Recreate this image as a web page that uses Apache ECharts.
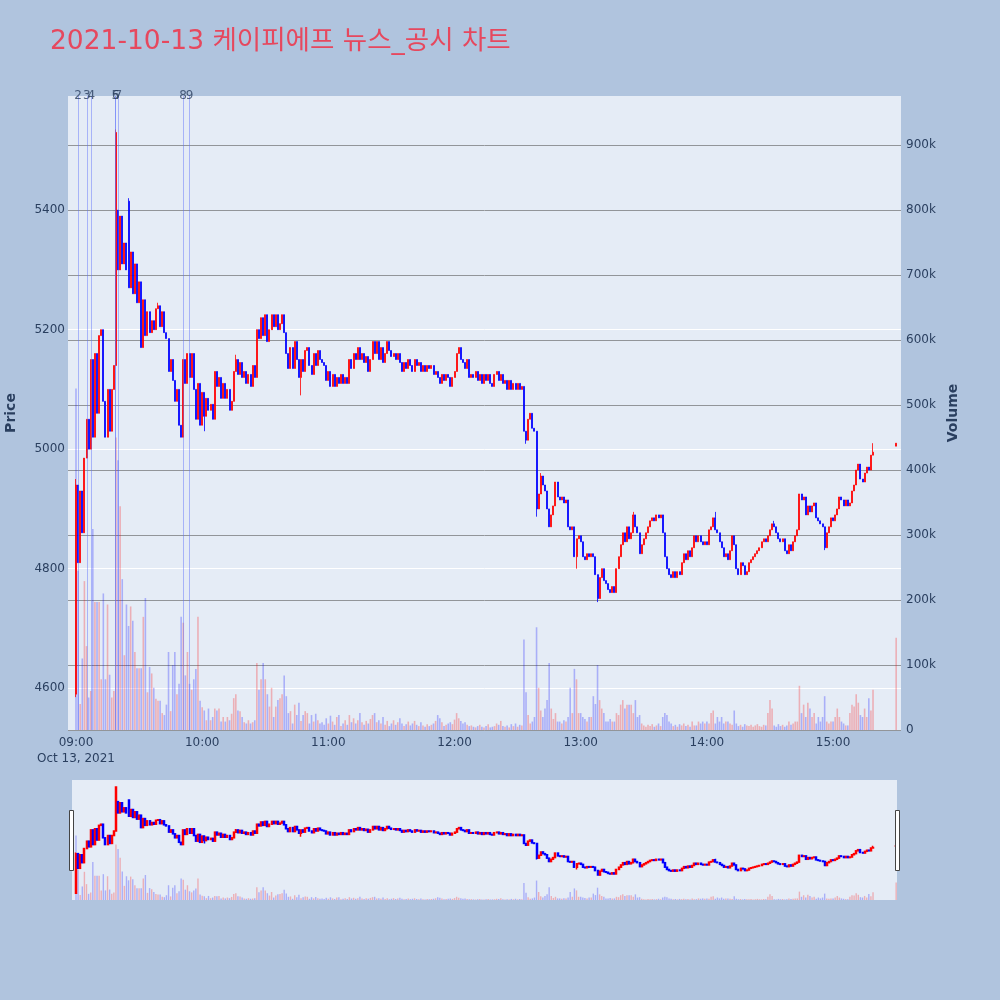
<!DOCTYPE html>
<html><head><meta charset="utf-8">
<script src="https://cdn.jsdelivr.net/npm/echarts@6/dist/echarts.min.js"></script>
<style>html,body{margin:0;padding:0;background:#B0C4DE}#c{width:1000px;height:1000px}</style>
</head><body><div id="c"></div>
<script>
// ---- data (minutes after 09:00, one candle per minute) ----
const firstOpen = 4590;
const closes = [
4940,4810,4930,4860,4985,5050,5000,5150,5020,5160,
5060,5190,5200,5080,5020,5100,5030,5100,5140,5530,
5300,5390,5310,5345,5300,5270,5330,5260,5310,5245,
5280,5170,5250,5190,5230,5195,5215,5200,5235,5240,
5205,5230,5195,5185,5130,5150,5115,5080,5100,5040,
5020,5150,5110,5160,5120,5160,5100,5050,5110,5040,
5095,5055,5085,5065,5075,5050,5130,5105,5120,5085,
5110,5085,5100,5065,5080,5130,5150,5125,5145,5120,
5130,5110,5125,5105,5140,5120,5200,5185,5220,5190,
5225,5180,5200,5225,5205,5225,5200,5210,5225,5195,
5160,5135,5170,5135,5180,5150,5120,5150,5130,5165,
5170,5140,5125,5160,5140,5165,5150,5145,5140,5115,
5130,5105,5125,5105,5120,5110,5125,5110,5120,5110,
5150,5135,5160,5150,5170,5150,5160,5145,5155,5130,
5150,5180,5160,5180,5150,5170,5145,5160,5180,5165,
5155,5160,5150,5160,5145,5130,5145,5135,5150,5140,
5130,5150,5140,5145,5130,5140,5130,5140,5135,5140,
5125,5130,5120,5110,5125,5115,5125,5120,5105,5120,
5130,5160,5170,5150,5145,5135,5150,5120,5125,5120,
5130,5115,5125,5110,5125,5115,5125,5110,5105,5125,
5130,5115,5125,5110,5115,5100,5115,5100,5110,5100,
5110,5100,5105,5030,5015,5050,5060,5035,5030,4900,
4925,4955,4940,4930,4900,4870,4890,4905,4945,4920,
4915,4920,4910,4915,4870,4865,4870,4820,4850,4855,
4845,4820,4815,4825,4820,4825,4820,4790,4750,4785,
4800,4780,4775,4765,4760,4770,4760,4800,4820,4840,
4860,4845,4870,4850,4860,4890,4870,4860,4825,4840,
4850,4860,4870,4880,4885,4880,4890,4885,4890,4860,
4820,4800,4790,4785,4795,4785,4795,4790,4810,4825,
4815,4830,4820,4835,4855,4845,4855,4845,4840,4845,
4840,4865,4870,4885,4865,4860,4845,4835,4820,4825,
4815,4830,4855,4840,4800,4790,4810,4805,4790,4795,
4810,4815,4820,4825,4830,4835,4845,4850,4845,4855,
4865,4875,4870,4860,4850,4845,4850,4830,4825,4840,
4830,4845,4855,4865,4925,4915,4920,4890,4905,4895,
4905,4910,4885,4880,4875,4870,4835,4860,4870,4885,
4880,4890,4900,4920,4915,4905,4915,4905,4910,4930,
4940,4965,4975,4950,4945,4960,4970,4965,4990,4995
];
const volumesK = [
525,245,40,110,229,129,50,60,309,197,
197,197,78,210,78,193,85,50,60,450,
415,344,232,115,193,160,190,168,120,95,
95,95,174,203,58,97,87,65,48,45,
45,26,23,39,120,29,100,120,55,71,
174,165,84,120,71,62,78,94,174,45,
35,30,15,33,15,20,33,30,33,13,
20,13,20,15,25,49,55,30,29,20,
12,10,15,10,12,15,103,62,78,103,
78,55,36,65,20,36,46,49,55,84,
52,26,29,10,39,23,42,14,23,29,
26,10,23,13,25,15,10,12,8,18,
10,22,13,8,20,23,6,10,15,8,
23,12,18,10,15,26,12,8,14,10,
17,23,26,12,15,10,20,8,14,6,
10,15,8,12,18,10,6,9,13,7,
10,14,8,6,12,7,5,9,6,8,
10,14,23,18,12,6,8,10,12,9,
16,26,18,14,10,12,8,6,7,5,
4,6,8,5,4,6,9,4,5,6,
10,8,14,6,5,7,4,9,6,10,
5,8,7,139,58,23,10,13,20,158,
65,30,20,33,46,103,33,17,26,13,
13,10,15,13,20,65,26,94,78,26,
26,20,17,13,20,20,52,40,100,46,
33,26,13,13,17,13,13,26,23,39,
46,33,39,39,39,26,46,20,23,10,
7,5,8,6,9,5,7,10,6,20,
26,23,13,10,6,8,5,9,7,10,
6,8,5,13,7,7,13,10,13,10,
13,10,26,30,10,20,13,20,10,13,
13,10,8,30,10,6,8,5,9,7,
6,8,5,7,9,6,5,8,7,26,
46,33,7,5,9,6,8,5,7,13,
8,10,13,13,68,26,39,20,42,33,
20,26,10,20,13,20,52,13,10,13,
13,20,33,20,13,10,7,7,26,39,
36,55,42,23,20,33,20,49,30,62
];
// gaps where a candle opened away from the previous close
const openOverrides = {20: 5400, 25: 5415};
const highWicks = {0: 4950, 19: 5535, 25: 5420, 39: 5245, 76: 5158, 183: 5170, 221: 4960, 265: 4895, 304: 4895, 332: 4880, 379: 5010};
const lowWicks = {0: 4585, 61: 5030, 107: 5090, 214: 5009, 219: 4887, 238: 4800, 248: 4744, 356: 4831};
// closing auction at 15:30
const auctionMinute = 390, auctionOpen = 5005, auctionClose = 5010, auctionVolumeK = 142;
// news / disclosure markers
const newsLabels = ['2','3','4','5','6','7','8','9'];
const newsMinutes = [0.95, 5.2, 7.3, 18.7, 18.9, 20.1, 50.9, 54.0];
// ticks
const hourTicks = [0, 60, 120, 180, 240, 300, 360];
const priceTicks = [4600, 4800, 5000, 5200, 5400];
const volumeTicks = [0, 100, 200, 300, 400, 500, 600, 700, 800, 900];
const dateLabel = 'Oct 13, 2021';

// ---- build series data ----
const candles = [], volBars = [];
const UP = '#ff0000', DOWN = '#0000ff';
const UPV = 'rgba(255,0,0,0.26)', DOWNV = 'rgba(0,0,255,0.26)';
for (let i = 0; i < closes.length; i++) {
  const o = openOverrides[i] != null ? openOverrides[i] : (i === 0 ? firstOpen : closes[i - 1]);
  const c = closes[i];
  const h = Math.max(o, c, highWicks[i] || -Infinity);
  const l = Math.min(o, c, lowWicks[i] || Infinity);
  candles.push([i, o, c, l, h]);
  const up = i > 0 && c >= closes[i - 1];
  volBars.push({value: [i, volumesK[i]], itemStyle: {color: up ? UPV : DOWNV}});
}
candles.push([auctionMinute, auctionOpen, auctionClose, auctionOpen, auctionClose]);
volBars.push({value: [auctionMinute, auctionVolumeK], itemStyle: {color: auctionClose >= closes[closes.length-1] ? UPV : DOWNV}});

const priceMin = 4530, priceMax = 5591, volMax = 975;
const font = "'DejaVu Sans', 'Noto Sans CJK KR', sans-serif";
const txt = '#2a3f5f';
function fmtTime(m) {
  const h = 9 + Math.floor(m / 60), mm = m % 60;
  const s = (h < 10 ? '0' : '') + h + ':' + (mm < 10 ? '0' : '') + mm;
  return m === 0 ? s + '\n' + dateLabel : s;
}

const chart = echarts.init(document.getElementById('c'), null, {renderer: 'canvas'});
chart.setOption({
  animation: false,
  backgroundColor: '#B0C4DE',
  title: {text: '2021-10-13 케이피에프 뉴스_공시 차트', left: 50, top: 29, padding: 0,
    textStyle: {fontSize: 26.5, fontWeight: 'normal', color: '#e6485e', fontFamily: font}},
  grid: [
    {left: 68, top: 96, width: 833, height: 634, show: true, backgroundColor: '#E5ECF6', borderWidth: 0,
      containLabel: false, outerBoundsMode: 'none'},
    {left: 72, top: 780, width: 825, height: 120, show: true, backgroundColor: '#E5ECF6', borderWidth: 0,
      containLabel: false, outerBoundsMode: 'none'}
  ],
  xAxis: [
    {type: 'value', gridIndex: 0, min: -3.8, max: 392.3,
      axisLine: {show: false}, splitLine: {show: false},
      axisTick: {show: false, customValues: hourTicks},
      axisLabel: {customValues: hourTicks, formatter: fmtTime, color: txt, fontFamily: font, fontSize: 12, margin: 5, lineHeight: 16}},
    {type: 'value', gridIndex: 1, min: -1.9, max: 390.4, show: false}
  ],
  yAxis: [
    {type: 'value', gridIndex: 0, min: priceMin, max: priceMax, position: 'left',
      name: 'Price', nameLocation: 'middle', nameGap: 50,
      nameTextStyle: {fontFamily: font, fontSize: 14, fontWeight: 'bold', color: txt},
      axisLine: {show: false}, axisTick: {show: false, customValues: priceTicks},
      axisLabel: {customValues: priceTicks, color: txt, fontFamily: font, fontSize: 12, margin: 3,
        formatter: v => String(v)},
      splitLine: {show: true, lineStyle: {color: '#ffffff', width: 1}}},
    {type: 'value', gridIndex: 0, min: 0, max: volMax, position: 'right',
      name: 'Volume', nameLocation: 'middle', nameGap: 44,
      nameTextStyle: {fontFamily: font, fontSize: 14, fontWeight: 'bold', color: txt},
      axisLine: {show: false}, axisTick: {show: false, customValues: volumeTicks},
      axisLabel: {customValues: volumeTicks, color: txt, fontFamily: font, fontSize: 12, margin: 5,
        formatter: v => v === 0 ? '0' : v + 'k'},
      splitLine: {show: true, lineStyle: {color: '#929599', width: 1}}},
    {type: 'value', gridIndex: 1, min: priceMin, max: priceMax, show: false},
    {type: 'value', gridIndex: 1, min: 0, max: volMax, show: false}
  ],
  series: [
    {type: 'bar', xAxisIndex: 0, yAxisIndex: 1, data: volBars, barWidth: 1.6, z: 1,
      markLine: {silent: true, symbol: 'none', animation: false,
        lineStyle: {color: 'rgba(90,110,250,0.45)', width: 1, type: 'solid'},
        label: {show: false},
        data: newsMinutes.map(t => ({xAxis: t}))}},
    {type: 'candlestick', xAxisIndex: 0, yAxisIndex: 0, data: candles, barWidth: 1.5, z: 3,
      itemStyle: {color: UP, color0: DOWN, borderColor: UP, borderColor0: DOWN, borderColorDoji: UP, borderWidth: 0.8}},
    {type: 'scatter', xAxisIndex: 0, yAxisIndex: 0, symbolSize: 0, z: 5, silent: true,
      data: newsMinutes.map((t, i) => ({value: [t, priceMax], name: newsLabels[i]})),
      label: {show: true, position: 'inside', formatter: p => p.name, color: txt, fontFamily: font, fontSize: 12}},
    {type: 'bar', xAxisIndex: 1, yAxisIndex: 3, data: volBars, barWidth: 1.4, z: 1},
    {type: 'candlestick', xAxisIndex: 1, yAxisIndex: 2, data: candles, barWidth: 1.5, z: 3,
      itemStyle: {color: UP, color0: DOWN, borderColor: UP, borderColor0: DOWN, borderColorDoji: UP, borderWidth: 1.5}}
  ],
  graphic: [
    {type: 'rect', left: 69, top: 810, shape: {width: 4, height: 60}, style: {fill: '#ffffff', stroke: '#444', lineWidth: 1}, z: 10},
    {type: 'rect', left: 895, top: 810, shape: {width: 4, height: 60}, style: {fill: '#ffffff', stroke: '#444', lineWidth: 1}, z: 10}
  ]
});
</script>
</body></html>
